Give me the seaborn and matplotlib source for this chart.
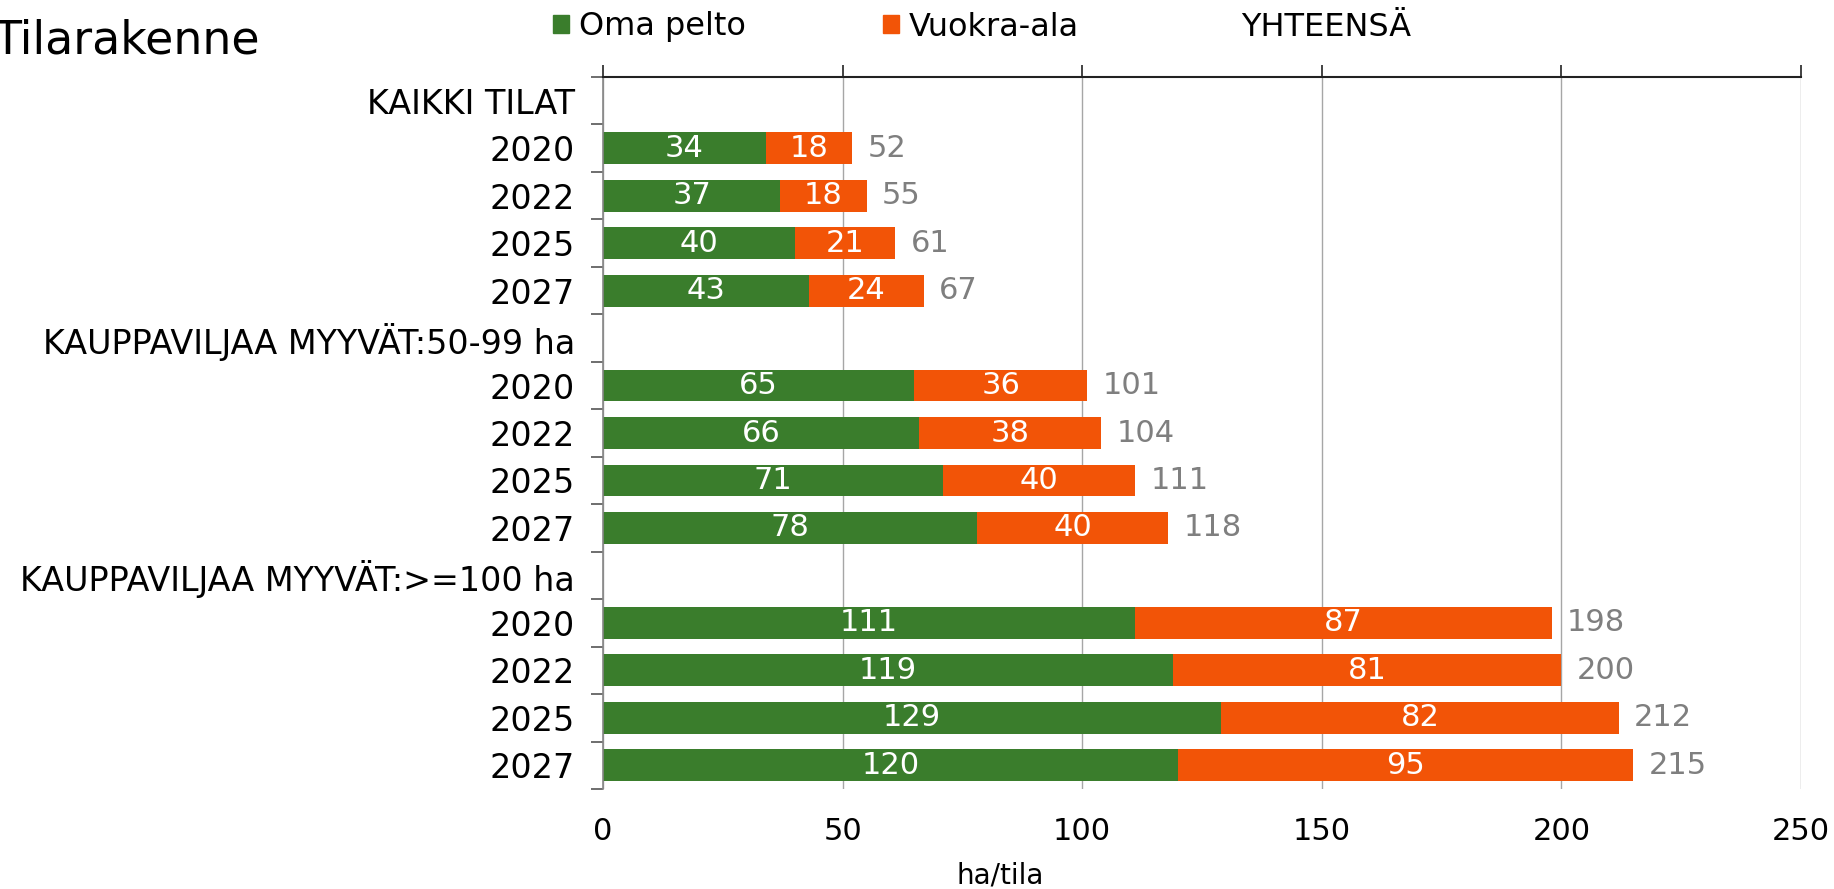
import numpy as np
import pandas as pd
import matplotlib
matplotlib.use("Agg")
import matplotlib.pyplot as plt
import seaborn as sns
from matplotlib.patches import Patch

sns.set_theme(style="white")
plt.rcParams['font.family'] = ['DejaVu Sans']
plt.rcParams['text.color'] = 'black'
plt.rcParams['xtick.color'] = 'black'
plt.rcParams['ytick.color'] = 'black'
plt.rcParams['axes.labelcolor'] = 'black'

# ---- data ----
row_labels = ["KAIKKI TILAT", "2020", "2022", "2025", "2027",
              "KAUPPAVILJAA MYYVÄT:50-99 ha", "2020", "2022", "2025", "2027",
              "KAUPPAVILJAA MYYVÄT:>=100 ha", "2020", "2022", "2025", "2027"]
oma_pelto = [np.nan, 34, 37, 40, 43, np.nan, 65, 66, 71, 78, np.nan, 111, 119, 129, 120]
vuokra_ala = [np.nan, 18, 18, 21, 24, np.nan, 36, 38, 40, 40, np.nan, 87, 81, 82, 95]
yhteensa = [np.nan, 52, 55, 61, 67, np.nan, 101, 104, 111, 118, np.nan, 198, 200, 212, 215]
x_ticks = [0, 50, 100, 150, 200, 250]

GREEN = "#3a7d2c"
ORANGE = "#f25407"
GREY = "#7f7f7f"

ids = [f"r{i}" for i in range(len(row_labels))]
df = pd.DataFrame({"id": ids, "oma": oma_pelto, "vuokra": vuokra_ala, "total": yhteensa})

fig = plt.figure(figsize=(18.34, 8.89), dpi=100)
ax = fig.add_axes([603 / 1834, 1 - 789 / 889, 1198 / 1834, (789 - 77) / 889])

# stacked: total (orange) underneath, own (green) on top
sns.barplot(data=df, y="id", x="total", order=ids, color=ORANGE, saturation=1,
            width=0.67, ax=ax, orient="h", linewidth=0)
sns.barplot(data=df, y="id", x="oma", order=ids, color=GREEN, saturation=1,
            width=0.67, ax=ax, orient="h", linewidth=0)

ax.set_xlim(0, 250)
ax.set_ylim(len(ids) - 0.5, -0.5)

# labels
for i in range(len(ids)):
    o, v, t = oma_pelto[i], vuokra_ala[i], yhteensa[i]
    if np.isnan(o):
        continue
    ax.text(o / 2, i, f"{int(o)}", color="white", ha="center", va="center", fontsize=22)
    ax.text(o + (t - o) / 2, i, f"{int(v)}", color="white", ha="center", va="center", fontsize=22)
    ax.annotate(f"{int(t)}", xy=(t, i), xytext=(11, 0), textcoords="offset points",
                color=GREY, ha="left", va="center", fontsize=22)

# axes styling
ax.set_xticks(x_ticks)
ax.set_xticklabels([str(v) for v in x_ticks])
ax.xaxis.grid(True, color="#a6a6a6", linewidth=1)
ax.yaxis.grid(False)
ax.set_axisbelow(True)
ax.tick_params(axis="x", which="major", top=True, bottom=False, labeltop=False,
               labelbottom=True, direction="out", length=9, width=1.2, color="#222222",
               labelsize=22, pad=11)
ax.set_yticks(range(len(ids)))
ax.set_yticklabels(row_labels)
ax.set_yticks(np.arange(-0.5, len(ids), 1.0), minor=True)
ax.tick_params(axis="y", which="major", length=0, labelsize=24, pad=20)
ax.tick_params(axis="y", which="minor", left=True, length=9, width=1.2, color="#555555")
for s in ["bottom", "right"]:
    ax.spines[s].set_visible(False)
ax.spines["top"].set_color("#222222")
ax.spines["top"].set_linewidth(1.5)
ax.spines["left"].set_color("#868686")
ax.spines["left"].set_linewidth(1.2)
ax.set_ylabel("")
ax.set_xlabel("ha/tila", fontsize=20)
ax.xaxis.set_label_coords((1000 - 603) / 1198, -(861 - 789) / (789 - 77))

# title
fig.text(-0.004, 1 - 41 / 889, "Tilarakenne", fontsize=33, ha="left", va="center", color="black")

# legend
handles = [Patch(color=GREEN, label="Oma pelto"), Patch(color=ORANGE, label="Vuokra-ala"),
           Patch(color="none", label="YHTEENSÄ")]
fig.legend(handles=handles, ncol=3, loc="center left", bbox_to_anchor=(553 / 1834, 1 - 27 / 889),
           frameon=False, fontsize=23, handlelength=0.5, handleheight=0.5, handletextpad=0.3,
           columnspacing=4.3, borderpad=0, borderaxespad=0)

fig.savefig("out.png", dpi=100)
